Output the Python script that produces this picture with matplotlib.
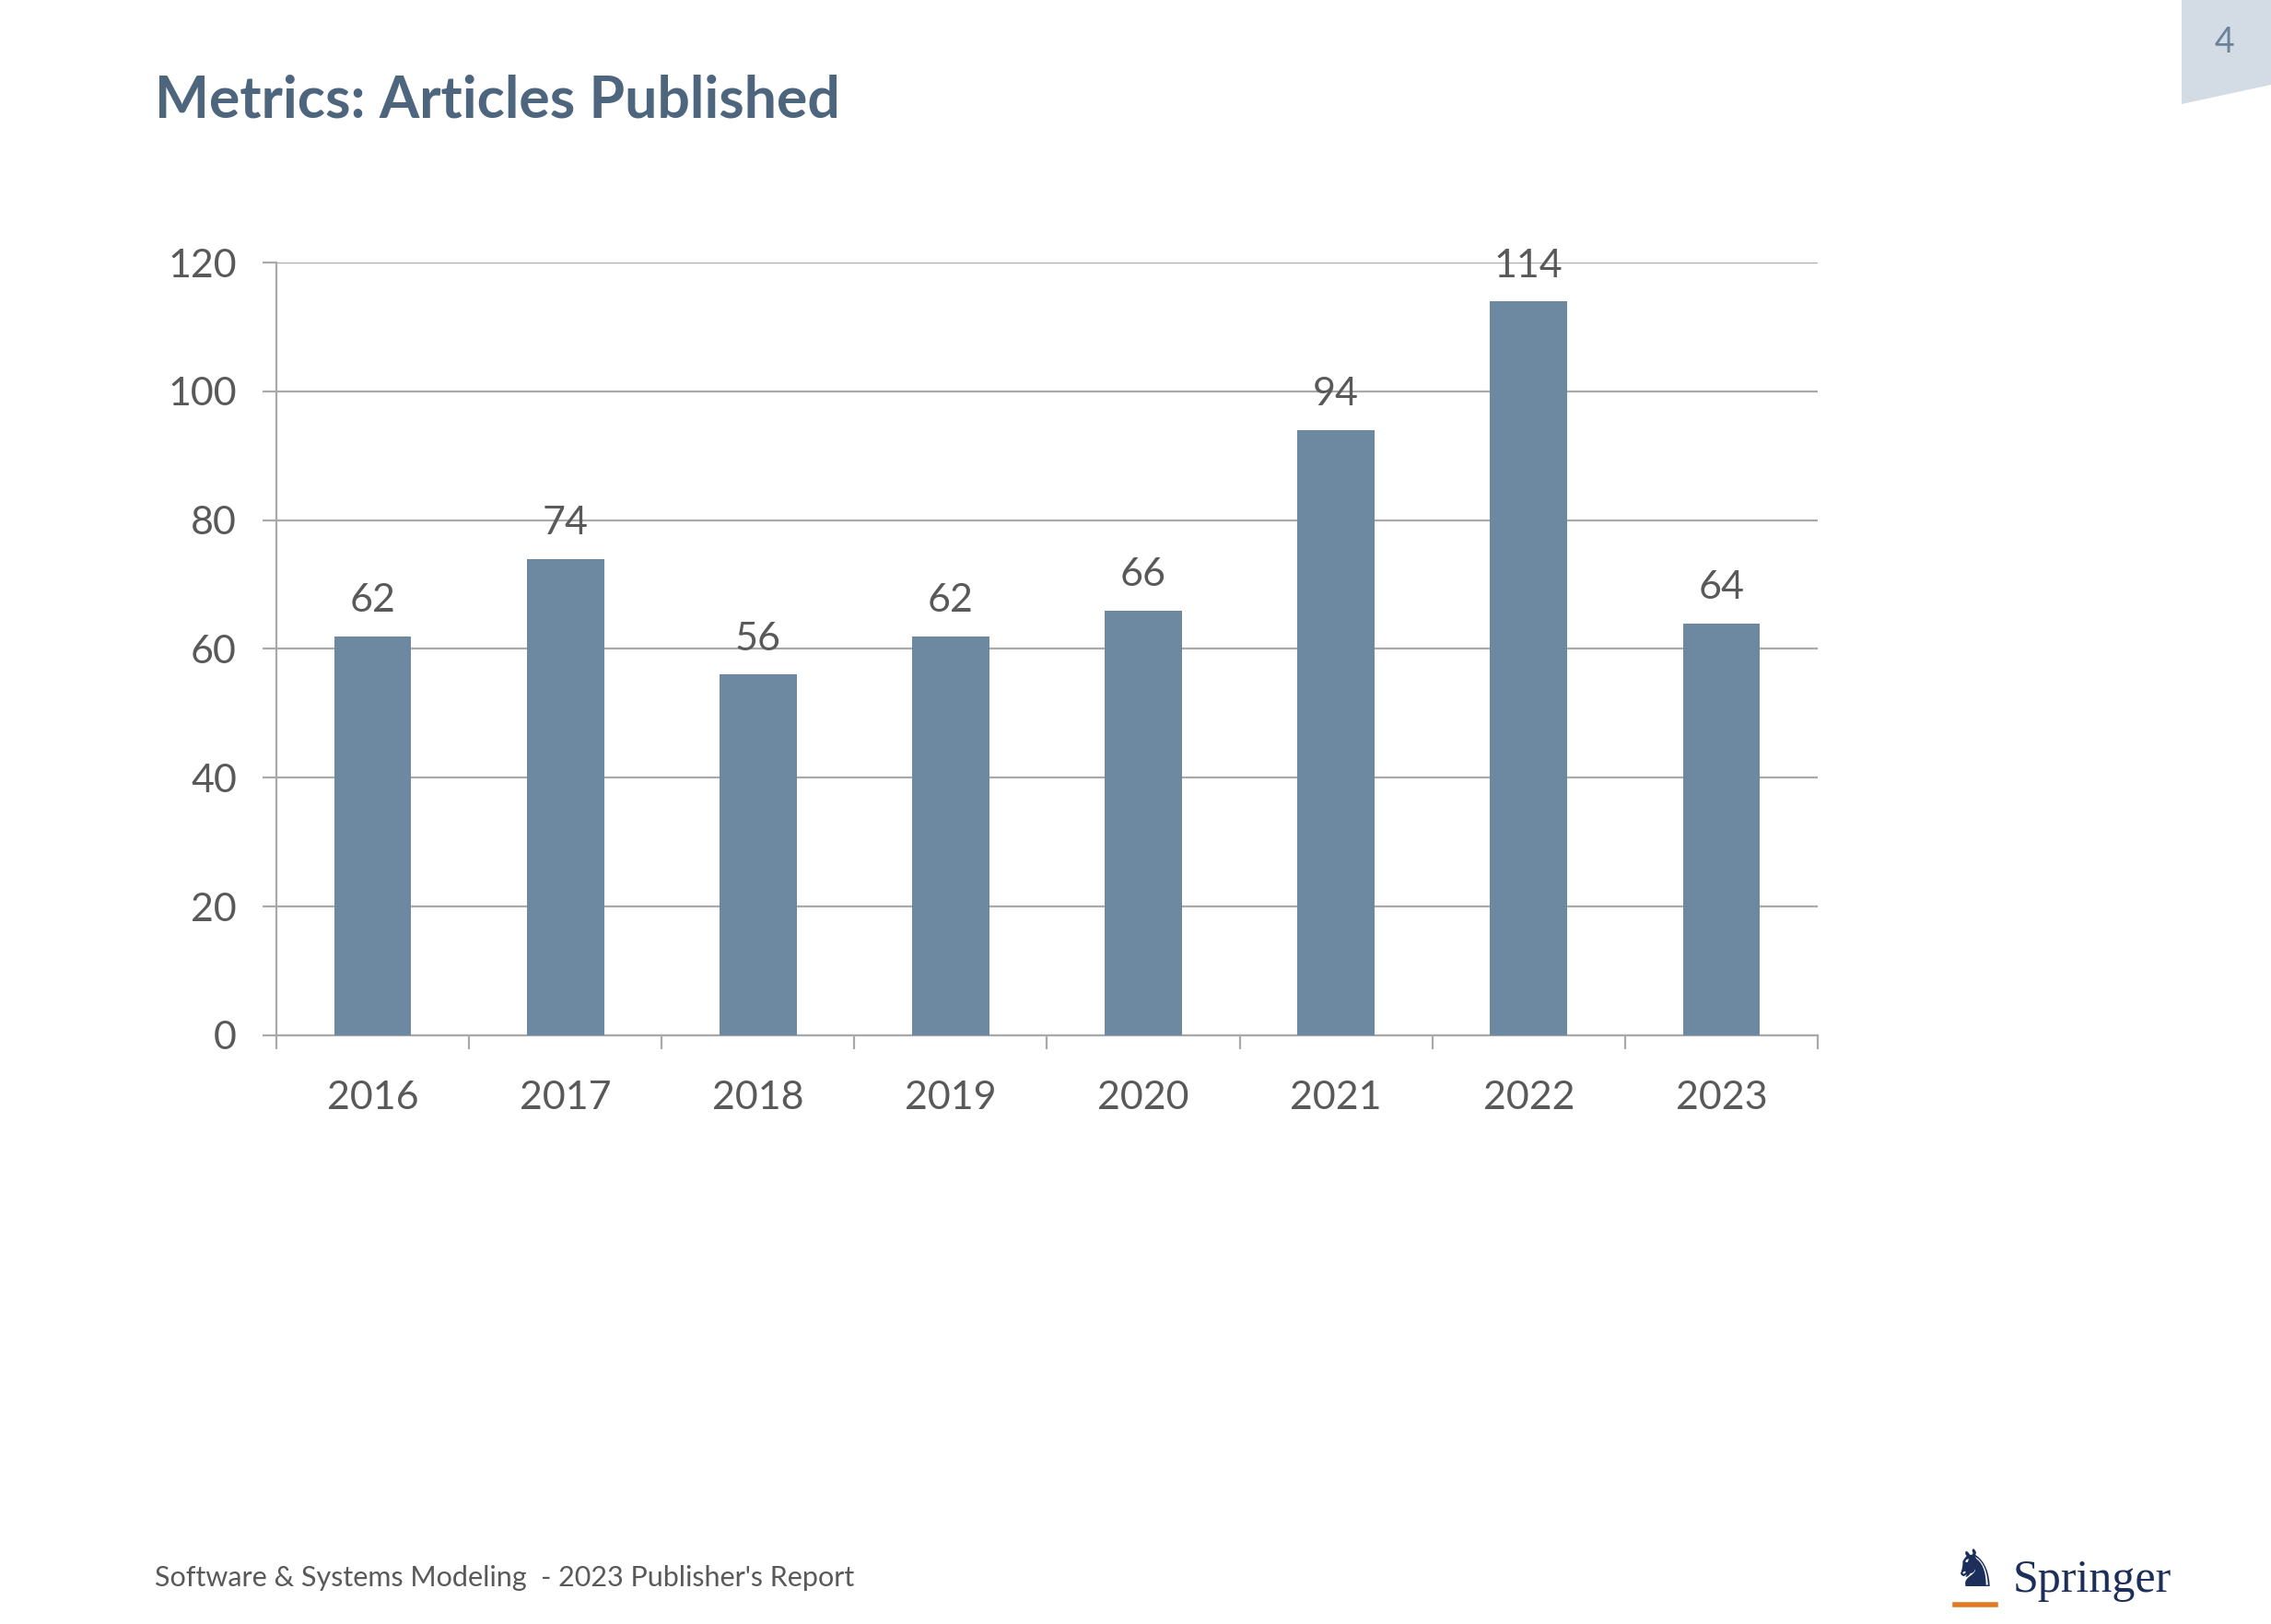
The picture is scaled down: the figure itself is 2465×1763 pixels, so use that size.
import matplotlib
matplotlib.use("Agg")
import matplotlib.pyplot as plt
from matplotlib.patches import Polygon

years = ['2016', '2017', '2018', '2019', '2020', '2021', '2022', '2023']
articles = [62, 74, 56, 62, 66, 94, 114, 64]
y_ticks = [0, 20, 40, 60, 80, 100, 120]

title = 'Metrics: Articles Published'
footer = "Software & Systems Modeling  - 2023 Publisher's Report"
page_no = '4'

bar_color = '#6d89a2'
grid_color = '#a9a9a9'
text_color = '#595959'

plt.rcParams['font.family'] = ['Lato', 'DejaVu Sans']

fig = plt.figure(figsize=(24.65, 17.63), dpi=100)
fig.patch.set_facecolor('white')

ax = fig.add_axes([0.1217, 0.3625, 0.6787, 0.4758])
x = range(len(years))
bars = ax.bar(x, articles, width=0.4, color=bar_color, zorder=3)

ax.set_xlim(-0.5, len(years) - 0.5)
ax.set_ylim(0, 120)
ax.set_yticks(y_ticks)
ax.set_xticks(list(x))
ax.set_xticklabels(years)
ax.set_xticks([i - 0.5 for i in range(len(years) + 1)], minor=True)

ax.grid(axis='y', color=grid_color, linewidth=1.6, zorder=0)
for s in ['top', 'right']:
    ax.spines[s].set_visible(False)
for s in ['left', 'bottom']:
    ax.spines[s].set_color(grid_color)
    ax.spines[s].set_linewidth(1.6)

ax.tick_params(axis='y', length=11, width=1.6, color=grid_color,
               labelsize=31, labelcolor=text_color, pad=20)
ax.tick_params(axis='x', which='major', length=0, labelsize=31,
               labelcolor=text_color, pad=35)
ax.tick_params(axis='x', which='minor', length=11, width=1.6, color=grid_color)

for b, v in zip(bars, articles):
    ax.annotate(str(v), (b.get_x() + b.get_width() / 2, v),
                xytext=(0, 14), textcoords='offset points',
                ha='center', va='bottom', fontsize=31, color=text_color)

# title and footer
fig.text(168 / 2465, 1 - 110 / 1763, title, fontsize=45, fontweight='bold',
         color='#4d657d', ha='left', va='center')
fig.text(168 / 2465, 1 - 1713 / 1763, footer, fontsize=22, color=text_color,
         ha='left', va='center')

# page number tab
tab = Polygon([(2368 / 2465, 1.0), (2465 / 2465, 1.0), (2465 / 2465, 1 - 92 / 1763),
               (2368 / 2465, 1 - 113 / 1763)], closed=True,
              transform=fig.transFigure, facecolor='#d3dce4', edgecolor='none')
fig.patches.append(tab)
fig.text(2415 / 2465, 1 - 46 / 1763, page_no, fontsize=27, color='#6b8299',
         ha='center', va='center')

# Springer logo
fig.text(2144 / 2465, 1 - 1707 / 1763, '\u265e', fontsize=40, color='#1c2f5a',
         ha='center', va='center', family='DejaVu Sans')
fig.add_artist(plt.Line2D([2122 / 2465, 2166 / 2465], [1 - 1742 / 1763] * 2,
                          transform=fig.transFigure, color='#e07b24', linewidth=4))
fig.text(2185 / 2465, 1 - 1716 / 1763, 'Springer', fontsize=36, color='#1c2f5a',
         ha='left', va='center', family='Liberation Serif')

fig.savefig('out.png', dpi=100)
